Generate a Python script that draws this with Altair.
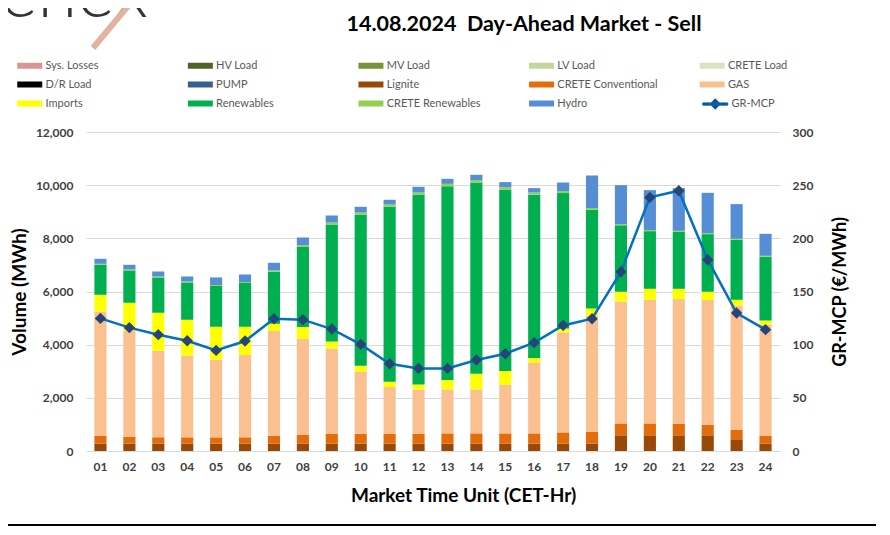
import altair as alt
import pandas as pd

hours = [f"{i:02d}" for i in range(1, 25)]

lignite = [280, 280, 280, 280, 280, 280, 280, 280, 280, 280, 280, 280,
           280, 280, 280, 280, 280, 280, 590, 590, 590, 590, 440, 280]
crete_conv = [295, 258, 233, 233, 233, 233, 295, 333, 370, 370, 370, 370,
              382, 382, 382, 382, 420, 446, 448, 448, 425, 399, 349, 295]
gas = [4674, 3985, 3258, 3082, 2920, 3096, 3937, 3609, 3208, 2344, 1756, 1666,
       1654, 1654, 1831, 2669, 3760, 4361, 4587, 4651, 4700, 4688, 4686, 4174]
imports = [628, 1053, 1430, 1342, 1241, 1065, 274, 440, 263, 213, 200, 188,
           353, 590, 515, 166, 150, 275, 365, 413, 387, 313, 214, 162]
renewables = [1131, 1217, 1329, 1405, 1532, 1645, 1960, 3018, 4395, 5680, 6582, 7130,
              7291, 7194, 6833, 6147, 5091, 3715, 2500, 2168, 2141, 2167, 2258, 2397]
crete_renew = [35, 35, 35, 35, 35, 35, 45, 65, 80, 85, 85, 90,
               90, 90, 85, 80, 75, 60, 45, 40, 40, 40, 35, 35]
hydro = [187, 177, 188, 188, 287, 287, 289, 286, 263, 214, 176, 214,
         188, 199, 188, 165, 324, 1226, 1466, 1503, 1606, 1515, 1305, 827]
gr_mcp = [124.7, 116.0, 109.4, 103.7, 94.6, 103.4, 124.4, 123.5, 114.7, 100.3, 82.1, 77.7,
          77.7, 85.6, 91.5, 101.9, 118.1, 124.4, 168.6, 238.5, 244.8, 179.9, 129.8, 114.1]

categories = ["Sys. Losses", "HV Load", "MV Load", "LV Load", "CRETE Load",
              "D/R Load", "PUMP", "Lignite", "CRETE Conventional", "GAS",
              "Imports", "Renewables", "CRETE Renewables", "Hydro"]
cat_colors = ["#d99694", "#4f6228", "#77933c", "#c3d69b", "#d7e4bd",
              "#000000", "#376092", "#984807", "#e46c0a", "#fac090",
              "#ffff00", "#00b050", "#92d050", "#558ed5"]

chart_title = ["14.08.2024\u00a0 Day-Ahead Market - Sell"]
logo = ["enex"]

stack_series = [("Lignite", lignite), ("CRETE Conventional", crete_conv), ("GAS", gas),
                ("Imports", imports), ("Renewables", renewables),
                ("CRETE Renewables", crete_renew), ("Hydro", hydro)]

rows = []
for rank, (name, vals) in enumerate(stack_series):
    for h, v in zip(hours, vals):
        rows.append({"hour": h, "source": name, "volume": v, "rank": rank})
bars_df = pd.DataFrame(rows)
price_df = pd.DataFrame({"hour": hours, "price": gr_mcp, "series": ["GR-MCP"] * 24})
deco_df = pd.DataFrame({"logo": logo, "title": chart_title})

FONT = "Lato"
LABEL_COLOR = "#404040"

x_enc = alt.X("hour:O",
              scale=alt.Scale(paddingInner=0.58, paddingOuter=0.29),
              axis=alt.Axis(title="Market Time Unit (CET-Hr)", labelAngle=0, domain=False,
                            ticks=False, labelPadding=10, labelFont=FONT, labelFontSize=12,
                            labelFontWeight="bold", labelColor=LABEL_COLOR,
                            titleFont=FONT, titleFontSize=19, titleFontWeight="bold",
                            titleColor="#000000", titlePadding=14, titleX=377,
                            titleAlign="center"))

bars = alt.Chart(bars_df).mark_bar().encode(
    x=x_enc,
    y=alt.Y("volume:Q", stack="zero", scale=alt.Scale(domain=[0, 12000], nice=False),
            axis=alt.Axis(title="Volume (MWh)", values=list(range(0, 12001, 2000)),
                          format=",d", domain=False, ticks=False, labelPadding=13,
                          labelFont=FONT, labelFontSize=12, labelFontWeight="bold",
                          labelColor=LABEL_COLOR, grid=True, gridColor="#d9d9d9",
                          titleFont=FONT, titleFontSize=19, titleFontWeight="bold",
                          titleColor="#000000", titlePadding=6)),
    color=alt.Color("source:N", scale=alt.Scale(domain=categories, range=cat_colors),
                    legend=alt.Legend(title=None, orient="none", legendX=-69, legendY=-73,
                                      direction="horizontal", columns=5, gridAlign="all",
                                      columnPadding=41.6, rowPadding=7,
                                      symbolType="M-1,-0.48H3V0.48H-1Z",
                                      symbolSize=156.25, symbolStrokeWidth=0,
                                      labelOffset=15.5, labelFont=FONT, labelFontSize=11,
                                      labelColor="#595959", labelLimit=200)),
    order=alt.Order("rank:Q"),
)

y_price = alt.Y("price:Q", scale=alt.Scale(domain=[0, 300], nice=False),
                axis=alt.Axis(title="GR-MCP (€/MWh)", orient="right",
                              values=list(range(0, 301, 50)), domain=False, ticks=False,
                              grid=False, labelPadding=12, labelFont=FONT, labelFontSize=12,
                              labelFontWeight="bold", labelColor=LABEL_COLOR,
                              titleFont=FONT, titleFontSize=18, titleFontWeight="bold",
                              titleColor="#000000", titlePadding=37, titleAngle=270))

line = alt.Chart(price_df).mark_line(color="#0070c0", strokeWidth=2.5).encode(
    x=x_enc, y=y_price)
points = alt.Chart(price_df).mark_point(shape="diamond", filled=True, size=130, opacity=1).encode(
    x=x_enc, y=y_price,
    color=alt.Color("series:N", scale=alt.Scale(domain=["GR-MCP"], range=["#264478"]),
                    legend=alt.Legend(title=None, orient="none", legendX=616, legendY=-35,
                                      symbolType="M-1,-0.18H3V0.18H-1Z M1,-0.85L1.85,0L1,0.85L0.15,0Z",
                                      symbolSize=156.25, symbolStrokeColor="#0070c0",
                                      symbolStrokeWidth=1, labelOffset=15.5, labelFont=FONT,
                                      labelFontSize=11, labelColor="#595959")),
)

price_layer = alt.layer(line, points)

# chart title, logo fragment and frame line
title_text = alt.Chart(deco_df).mark_text(
    font=FONT, fontSize=21.5, fontWeight="bold", color="#000000", align="center",
    baseline="alphabetic").encode(
    text="title:N", x=alt.value(438), y=alt.value(-101))
logo_text = alt.Chart(deco_df).mark_text(
    font=FONT, fontSize=72, fontWeight=300, color="#333333", align="right",
    baseline="alphabetic").encode(
    text="logo:N", x=alt.value(62), y=alt.value(-115))
logo_slash = alt.Chart(deco_df).mark_rule(color="#e2b39f", strokeWidth=6).encode(
    x=alt.value(42), y=alt.value(-126), x2=alt.value(7), y2=alt.value(-84))
bottom_rule = alt.Chart(deco_df).mark_rule(color="#000000", strokeWidth=2).encode(
    x=alt.value(-81), x2=alt.value(792), y=alt.value(393))

chart = alt.layer(bars, price_layer, title_text, logo_text, logo_slash, bottom_rule).resolve_scale(
    y="independent", color="independent"
).properties(
    width=694, height=319,
    autosize=alt.AutoSizeParams(type="none"),
    padding={"left": 78, "top": 124, "right": 96, "bottom": 76},
).configure_view(stroke=None)

chart.save("out.html", embed_options={"renderer": "svg", "actions": False})
